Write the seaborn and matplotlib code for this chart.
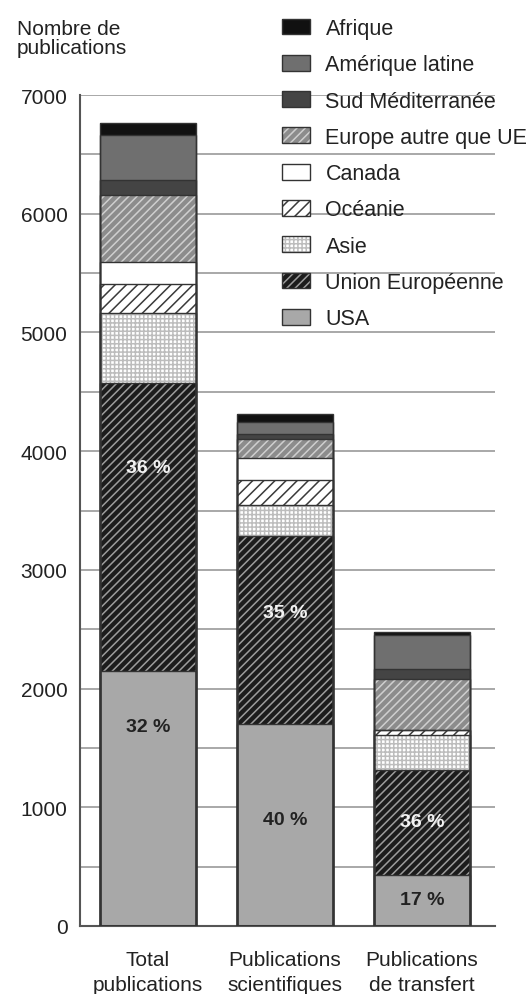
import numpy as np
import pandas as pd
import seaborn as sns
import matplotlib.pyplot as plt
from matplotlib.patches import Patch
from matplotlib.legend_handler import HandlerTuple
from matplotlib.ticker import MultipleLocator

# --- data ---
categories = ['Total\npublications', 'Publications\nscientifiques', 'Publications\nde transfert']
regions = ['Afrique', 'Amérique latine', 'Sud Méditerranée', 'Europe autre que UE',
           'Canada', 'Océanie', 'Asie', 'Union Européenne', 'USA']

afrique = [95, 67, 20]
amerique_latine = [380, 100, 290]
sud_med = [125, 42, 85]
europe_autre = [565, 160, 425]
canada = [185, 182, 0]
oceanie = [250, 210, 40]
asie = [590, 266, 300]
union_europeenne = [2420, 1577, 885]
usa = [2150, 1705, 428]

pct_usa = ['32 %', '40 %', '17 %']
pct_ue = ['36 %', '35 %', '36 %']

values = [afrique, amerique_latine, sud_med, europe_autre, canada,
          oceanie, asie, union_europeenne, usa]

# face colour, hatch colour, hatch pattern
styles = {
    'Afrique': ('#111111', '#111111', ''),
    'Amérique latine': ('#6f6f6f', '#6f6f6f', ''),
    'Sud Méditerranée': ('#444444', '#444444', ''),
    'Europe autre que UE': ('#8c8c8c', '#cfcfcf', '////'),
    'Canada': ('#ffffff', '#ffffff', ''),
    'Océanie': ('#ffffff', '#3a3a3a', '///'),
    'Asie': ('#ffffff', '#bdbdbd', '++++'),
    'Union Européenne': ('#1c1c1c', '#9c9c9c', '////'),
    'USA': ('#a8a8a8', '#a8a8a8', ''),
}

sns.set_style('white')
plt.rcParams['font.family'] = ['Liberation Sans', 'DejaVu Sans']
plt.rcParams['hatch.linewidth'] = 1.1

df = pd.DataFrame(dict(zip(regions, values)), index=categories)
# cumulative heights, bottom (USA) to top (Afrique)
stack = df[regions[::-1]].cumsum(axis=1)

fig = plt.figure(figsize=(5.28, 9.95), dpi=100)
ax = fig.add_axes([80 / 528, 1 - 927 / 995, 415 / 528, 831 / 995])

# draw tallest cumulative bar first so each lower segment sits on top
for region in regions:
    face, hcol, hatch = styles[region]
    n0 = len(ax.patches)
    sns.barplot(x=categories, y=stack[region].values, order=categories, color=face,
                saturation=1, width=0.7, errorbar=None, ax=ax, zorder=2)
    for p in ax.patches[n0:]:
        p.set_edgecolor(hcol)
        p.set_linewidth(0)
        p.set_hatch(hatch)

# outlines of every segment
for region in regions:
    sns.barplot(x=categories, y=stack[region].values, order=categories, color='#333333',
                fill=False, saturation=1, width=0.7, errorbar=None, ax=ax,
                linewidth=1, zorder=3)

# percentage labels
usa_label_y = [1680, 900, 225]
ue_label_y = [3860, 2640, 880]
for i in range(3):
    ax.text(i, usa_label_y[i], pct_usa[i], ha='center', va='center',
            fontsize=14, fontweight='bold', color='#222222', zorder=4)
    ax.text(i, ue_label_y[i], pct_ue[i], ha='center', va='center',
            fontsize=14, fontweight='bold', color='#f2f2f2', zorder=4)

ax.set_ylim(0, 7000)
ax.set_xlim(-0.496, 2.533)
ax.yaxis.set_major_locator(MultipleLocator(1000))
ax.yaxis.set_minor_locator(MultipleLocator(500))
ax.grid(axis='y', which='both', color='#9a9a9a', linewidth=1.2, zorder=0)
ax.set_axisbelow(True)
ax.tick_params(axis='y', which='major', length=7, width=1.3, color='#555555',
               labelsize=15, labelcolor='#222222', pad=2)
ax.tick_params(axis='y', which='minor', length=0)
ax.tick_params(axis='x', length=0, labelsize=15, labelcolor='#222222', pad=17)
for lab in ax.get_xticklabels():
    lab.set_linespacing(1.45)
ax.set_xlabel('')
ax.set_ylabel('')
for side in ['top', 'right']:
    ax.spines[side].set_visible(False)
for side in ['left', 'bottom']:
    ax.spines[side].set_color('#555555')
    ax.spines[side].set_linewidth(1.5)

fig.text(17 / 528, 1 - 20 / 995, 'Nombre de\npublications', ha='left', va='top',
         fontsize=15, color='#222222', linespacing=1.0)

# legend
handles = []
for region in regions:
    face, hcol, hatch = styles[region]
    fill = Patch(facecolor=face, edgecolor=hcol, hatch=hatch, linewidth=0)
    edge = Patch(facecolor='none', edgecolor='#333333', linewidth=1)
    handles.append((fill, edge))
fig.legend(handles, regions, loc='upper left', bbox_to_anchor=(282 / 528, 1 - 19 / 995),
           frameon=False, borderpad=0, borderaxespad=0, fontsize=15.5,
           handlelength=1.3, handleheight=0.75, handletextpad=0.72, labelspacing=0.71,
           handler_map={tuple: HandlerTuple(ndivide=1, pad=0)}, labelcolor='#222222')

fig.savefig('out.png', dpi=100)
